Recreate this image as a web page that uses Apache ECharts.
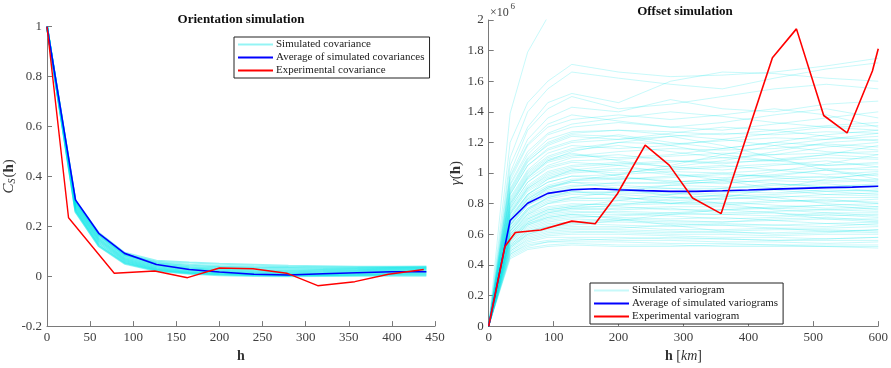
<!DOCTYPE html>
<html>
<head>
<meta charset="utf-8">
<script src="https://cdn.jsdelivr.net/npm/echarts@6/dist/echarts.min.js"></script>
<style>
  html, body { margin: 0; padding: 0; background: #fff; }
  #chart { width: 891px; height: 368px; }
</style>
</head>
<body>
<div id="chart"></div>
<script>
// ---------- Orientation simulation (covariance) ----------
const covLags = [0, 33, 60, 90, 127, 165, 200, 240, 280, 320, 360, 400, 440];
const simCovariances = [
  [1, 0.304, 0.174, 0.094, 0.062, 0.055, 0.050, 0.046, 0.042, 0.040, 0.038, 0.038, 0.039],
  [1, 0.300, 0.168, 0.088, 0.052, 0.040, 0.036, 0.033, 0.032, 0.030, 0.031, 0.033, 0.034],
  [1, 0.298, 0.165, 0.086, 0.056, 0.046, 0.041, 0.038, 0.036, 0.035, 0.035, 0.036, 0.037],
  [1, 0.295, 0.162, 0.083, 0.048, 0.035, 0.030, 0.027, 0.025, 0.026, 0.028, 0.030, 0.032],
  [1, 0.290, 0.155, 0.078, 0.044, 0.031, 0.026, 0.022, 0.020, 0.022, 0.024, 0.027, 0.029],
  [1, 0.285, 0.150, 0.073, 0.040, 0.028, 0.022, 0.018, 0.016, 0.018, 0.021, 0.024, 0.026],
  [1, 0.280, 0.145, 0.069, 0.036, 0.024, 0.018, 0.014, 0.012, 0.014, 0.017, 0.020, 0.022],
  [1, 0.275, 0.140, 0.065, 0.032, 0.020, 0.015, 0.011, 0.009, 0.010, 0.013, 0.016, 0.018],
  [1, 0.270, 0.134, 0.061, 0.029, 0.017, 0.012, 0.008, 0.006, 0.007, 0.009, 0.012, 0.014],
  [1, 0.265, 0.128, 0.057, 0.026, 0.014, 0.009, 0.006, 0.004, 0.005, 0.006, 0.009, 0.010],
  [1, 0.260, 0.122, 0.053, 0.023, 0.012, 0.007, 0.004, 0.002, 0.003, 0.004, 0.006, 0.006],
  [1, 0.258, 0.120, 0.050, 0.021, 0.010, 0.004, 0.001, 0.000, 0.001, 0.002, 0.003, 0.002]
];
const avgCovariance = [1.0, 0.306, 0.172, 0.0915, 0.047, 0.027, 0.017, 0.008, 0.005, 0.010, 0.014, 0.018, 0.018];
const expCovLags = [0, 25, 78, 125, 163, 200, 239, 278, 314, 357, 396, 437];
const expCovariance = [1.0, 0.234, 0.012, 0.021, -0.006, 0.033, 0.030, 0.012, -0.038, -0.022, 0.008, 0.027];

// ---------- Offset simulation (variogram, in units of 1e6) ----------
const varLags = [0, 33, 60, 91, 128, 200, 280, 360, 440, 520, 600];
const simVariograms = [
  [0, 1.39, 1.79, 2.02, 2.25],
  [0, 1.20, 1.46, 1.60, 1.71, 1.66, 1.63, 1.64, 1.66, 1.70, 1.75],
  [0, 1.10, 1.40, 1.55, 1.66, 1.62, 1.58, 1.55, 1.62, 1.68, 1.72],
  [0, 1.05, 1.30, 1.46, 1.52, 1.46, 1.60, 1.66, 1.65, 1.62, 1.60],
  [0, 1.00, 1.28, 1.42, 1.50, 1.42, 1.45, 1.50, 1.55, 1.58, 1.55],
  [0, 0.98, 1.22, 1.36, 1.43, 1.40, 1.48, 1.42, 1.40, 1.45, 1.47],
  [0, 0.95, 1.18, 1.30, 1.35, 1.38, 1.35, 1.38, 1.42, 1.38, 1.30],
  [0, 0.92, 1.12, 1.25, 1.30, 1.33, 1.30, 1.28, 1.32, 1.36, 1.40],
  [0, 0.90, 1.10, 1.22, 1.27, 1.28, 1.25, 1.22, 1.26, 1.30, 1.31],
  [0, 0.88, 1.08, 1.18, 1.24, 1.22, 1.26, 1.30, 1.28, 1.24, 1.21],
  [0, 0.86, 1.05, 1.16, 1.21, 1.25, 1.20, 1.16, 1.20, 1.25, 1.28],
  [0, 0.84, 1.02, 1.13, 1.18, 1.16, 1.18, 1.22, 1.18, 1.14, 1.12],
  [0, 0.82, 1.00, 1.10, 1.15, 1.18, 1.14, 1.10, 1.12, 1.17, 1.20],
  [0, 0.80, 0.98, 1.08, 1.12, 1.10, 1.12, 1.16, 1.20, 1.18, 1.15],
  [0, 0.79, 0.96, 1.05, 1.10, 1.12, 1.08, 1.06, 1.09, 1.12, 1.10],
  [0, 0.77, 0.94, 1.03, 1.07, 1.05, 1.07, 1.10, 1.08, 1.05, 1.06],
  [0, 0.76, 0.92, 1.01, 1.05, 1.07, 1.04, 1.02, 1.05, 1.08, 1.04],
  [0, 0.74, 0.90, 0.98, 1.02, 1.00, 1.03, 1.05, 1.02, 0.99, 1.01],
  [0, 0.73, 0.88, 0.96, 1.00, 1.02, 0.99, 0.97, 0.99, 1.02, 0.98],
  [0, 0.72, 0.86, 0.94, 0.98, 0.96, 0.98, 1.00, 0.97, 0.95, 0.96],
  [0, 0.70, 0.85, 0.92, 0.96, 0.97, 0.95, 0.93, 0.96, 0.98, 0.94],
  [0, 0.69, 0.83, 0.90, 0.94, 0.93, 0.94, 0.96, 0.93, 0.91, 0.92],
  [0, 0.68, 0.82, 0.89, 0.92, 0.92, 0.90, 0.90, 0.92, 0.93, 0.90],
  [0, 0.66, 0.80, 0.87, 0.90, 0.89, 0.90, 0.88, 0.87, 0.89, 0.88],
  [0, 0.65, 0.79, 0.85, 0.88, 0.87, 0.86, 0.87, 0.89, 0.86, 0.85],
  [0, 0.64, 0.77, 0.83, 0.86, 0.86, 0.84, 0.83, 0.84, 0.86, 0.87],
  [0, 0.63, 0.76, 0.82, 0.84, 0.83, 0.84, 0.85, 0.82, 0.81, 0.83],
  [0, 0.62, 0.74, 0.80, 0.82, 0.82, 0.80, 0.79, 0.81, 0.83, 0.80],
  [0, 0.61, 0.73, 0.78, 0.80, 0.79, 0.80, 0.81, 0.79, 0.77, 0.78],
  [0, 0.60, 0.71, 0.76, 0.78, 0.78, 0.76, 0.76, 0.78, 0.79, 0.76],
  [0, 0.59, 0.70, 0.75, 0.77, 0.76, 0.77, 0.74, 0.75, 0.76, 0.75],
  [0, 0.58, 0.68, 0.73, 0.75, 0.74, 0.73, 0.73, 0.74, 0.72, 0.73],
  [0, 0.57, 0.67, 0.71, 0.73, 0.73, 0.72, 0.70, 0.71, 0.73, 0.71],
  [0, 0.56, 0.66, 0.70, 0.72, 0.71, 0.70, 0.71, 0.69, 0.70, 0.70],
  [0, 0.55, 0.64, 0.68, 0.70, 0.69, 0.68, 0.68, 0.69, 0.67, 0.68],
  [0, 0.54, 0.63, 0.67, 0.68, 0.68, 0.67, 0.66, 0.66, 0.67, 0.66],
  [0, 0.53, 0.62, 0.65, 0.67, 0.66, 0.65, 0.66, 0.64, 0.64, 0.65],
  [0, 0.52, 0.60, 0.64, 0.65, 0.65, 0.63, 0.63, 0.64, 0.62, 0.63],
  [0, 0.51, 0.59, 0.62, 0.63, 0.63, 0.62, 0.61, 0.61, 0.62, 0.61],
  [0, 0.50, 0.58, 0.61, 0.62, 0.61, 0.60, 0.60, 0.59, 0.60, 0.60],
  [0, 0.49, 0.56, 0.59, 0.60, 0.60, 0.59, 0.58, 0.58, 0.57, 0.58],
  [0, 0.48, 0.55, 0.58, 0.58, 0.58, 0.57, 0.57, 0.56, 0.56, 0.56],
  [0, 0.47, 0.54, 0.56, 0.57, 0.56, 0.56, 0.55, 0.55, 0.54, 0.55],
  [0, 0.46, 0.52, 0.55, 0.55, 0.55, 0.54, 0.54, 0.53, 0.53, 0.53],
  [0, 0.45, 0.51, 0.53, 0.54, 0.53, 0.53, 0.52, 0.52, 0.52, 0.51],
  [0, 0.78, 0.97, 1.08, 1.14, 1.20, 1.24, 1.18, 1.10, 1.02, 0.96],
  [0, 0.66, 0.81, 0.90, 0.95, 0.99, 1.05, 1.12, 1.18, 1.22, 1.26],
  [0, 0.62, 0.76, 0.84, 0.88, 0.85, 0.80, 0.84, 0.90, 0.96, 1.00],
  [0, 0.87, 1.07, 1.19, 1.25, 1.24, 1.18, 1.12, 1.08, 1.12, 1.18],
  [0, 0.57, 0.68, 0.74, 0.77, 0.79, 0.83, 0.86, 0.84, 0.80, 0.78],
  [0, 0.70, 0.86, 0.96, 1.02, 1.05, 1.00, 0.95, 0.90, 0.88, 0.86],
  [0, 0.60, 0.73, 0.80, 0.84, 0.88, 0.92, 0.95, 0.98, 1.02, 1.04],
  [0, 0.44, 0.50, 0.52, 0.53, 0.52, 0.52, 0.53, 0.53, 0.52, 0.52],
  [0, 0.47, 0.53, 0.55, 0.56, 0.57, 0.58, 0.57, 0.56, 0.57, 0.58],
  [0, 0.49, 0.57, 0.60, 0.61, 0.62, 0.61, 0.62, 0.63, 0.63, 0.62],
  [0, 0.51, 0.60, 0.63, 0.64, 0.64, 0.66, 0.67, 0.66, 0.65, 0.67],
  [0, 0.53, 0.62, 0.66, 0.68, 0.70, 0.69, 0.68, 0.70, 0.71, 0.69],
  [0, 0.55, 0.65, 0.69, 0.71, 0.72, 0.74, 0.73, 0.72, 0.74, 0.74],
  [0, 0.57, 0.67, 0.72, 0.74, 0.75, 0.74, 0.76, 0.77, 0.76, 0.77],
  [0, 0.58, 0.69, 0.74, 0.76, 0.77, 0.78, 0.78, 0.77, 0.79, 0.80],
  [0, 0.60, 0.72, 0.77, 0.79, 0.80, 0.81, 0.80, 0.82, 0.82, 0.81],
  [0, 0.62, 0.75, 0.81, 0.83, 0.84, 0.82, 0.83, 0.85, 0.84, 0.84],
  [0, 0.64, 0.77, 0.84, 0.87, 0.88, 0.87, 0.85, 0.86, 0.88, 0.89],
  [0, 0.66, 0.79, 0.86, 0.89, 0.90, 0.92, 0.91, 0.90, 0.91, 0.93],
  [0, 0.67, 0.81, 0.88, 0.91, 0.94, 0.93, 0.94, 0.95, 0.94, 0.95],
  [0, 0.69, 0.84, 0.91, 0.95, 0.96, 0.97, 0.99, 0.98, 0.97, 0.99],
  [0, 0.71, 0.86, 0.94, 0.98, 0.99, 1.01, 1.00, 1.02, 1.03, 1.02],
  [0, 0.73, 0.89, 0.97, 1.01, 1.03, 1.02, 1.04, 1.06, 1.05, 1.07],
  [0, 0.75, 0.91, 1.00, 1.04, 1.06, 1.08, 1.07, 1.08, 1.10, 1.09],
  [0, 0.77, 0.94, 1.04, 1.08, 1.09, 1.11, 1.13, 1.12, 1.13, 1.14],
  [0, 0.80, 0.97, 1.07, 1.11, 1.14, 1.16, 1.15, 1.16, 1.19, 1.17],
  [0, 0.83, 1.01, 1.11, 1.16, 1.20, 1.19, 1.21, 1.23, 1.22, 1.24],
  [0, 0.86, 1.05, 1.15, 1.20, 1.22, 1.24, 1.26, 1.25, 1.27, 1.26],
  [0, 0.89, 1.09, 1.20, 1.26, 1.28, 1.27, 1.25, 1.28, 1.31, 1.33],
  [0, 0.56, 0.66, 0.71, 0.73, 0.70, 0.66, 0.62, 0.60, 0.61, 0.63],
  [0, 0.68, 0.83, 0.91, 0.94, 0.90, 0.85, 0.80, 0.76, 0.74, 0.72],
  [0, 0.59, 0.70, 0.76, 0.78, 0.82, 0.86, 0.90, 0.93, 0.91, 0.88],
  [0, 0.74, 0.90, 0.99, 1.03, 0.98, 0.94, 0.96, 1.01, 1.06, 1.12],
  [0, 0.52, 0.61, 0.65, 0.66, 0.69, 0.73, 0.76, 0.74, 0.70, 0.68],
  [0, 0.81, 0.99, 1.09, 1.13, 1.08, 1.04, 1.08, 1.14, 1.20, 1.22],
  [0, 0.93, 1.14, 1.26, 1.32, 1.36, 1.40, 1.37, 1.33, 1.30, 1.28],
  [0, 0.97, 1.19, 1.32, 1.38, 1.34, 1.30, 1.33, 1.38, 1.42, 1.36]
];
const avgVarLags = [0, 33, 60, 91, 128, 164, 198, 240, 280, 320, 360, 400, 440, 480, 520, 560, 600];
const avgVariogram = [0, 0.69, 0.803, 0.867, 0.891, 0.897, 0.891, 0.885, 0.880, 0.880, 0.884, 0.889, 0.895, 0.900, 0.905, 0.908, 0.914];
const expVarLags = [0, 25, 41, 80, 128, 164, 198, 241, 278, 314, 358, 437, 474, 516, 552, 591, 600];
const expVariogram = [0, 0.52, 0.612, 0.628, 0.686, 0.669, 0.863, 1.182, 1.052, 0.837, 0.735, 1.754, 1.942, 1.376, 1.262, 1.667, 1.812];

const covTicksX = { min: 0, max: 450, interval: 50 };
const covTicksY = { min: -0.2, max: 1, interval: 0.2 };
const varTicksX = { min: 0, max: 600, interval: 100 };
const varTicksY = { min: 0, max: 2, interval: 0.2 };

// ---------- styling ----------
const SERIF = '"Liberation Serif", "Times New Roman", serif';
const AXIS_COLOR = '#7a7a7a';
const LABEL_COLOR = '#404040';
const SIM_COV_COLOR = 'rgba(0, 228, 232, 0.42)';
const SIM_VAR_COLOR = 'rgba(0, 228, 232, 0.22)';
const AVG_COLOR = '#0000ff';
const EXP_COLOR = '#ff0000';

const pairs = (xs, ys) => ys.map((y, i) => [xs[i], y]);

function axis(gridIndex, ticks, extra) {
  return Object.assign({
    gridIndex,
    type: 'value',
    min: ticks.min, max: ticks.max, interval: ticks.interval,
    axisLine: { show: true, onZero: false, lineStyle: { color: AXIS_COLOR, width: 1 } },
    axisTick: { show: true, inside: true, length: 5, lineStyle: { color: AXIS_COLOR } },
    axisLabel: { color: LABEL_COLOR, fontFamily: SERIF, fontSize: 13, margin: 5 },
    splitLine: { show: false }
  }, extra);
}

function lineSeries(name, xAxisIndex, data, color, width, z) {
  return {
    type: 'line', name, xAxisIndex, yAxisIndex: xAxisIndex, data,
    color, showSymbol: false, symbol: 'none', silent: true, animation: false,
    lineStyle: { color, width }, itemStyle: { color }, z, clip: true
  };
}

const series = [];
simCovariances.forEach(c => series.push(lineSeries('Simulated covariance', 0, pairs(covLags, c), SIM_COV_COLOR, 2, 1)));
series.push(lineSeries('Average of simulated covariances', 0, pairs(covLags, avgCovariance), AVG_COLOR, 1.6, 3));
series.push(lineSeries('Experimental covariance', 0, pairs(expCovLags, expCovariance), EXP_COLOR, 1.4, 4));
simVariograms.forEach(v => series.push(lineSeries('Simulated variogram', 1, pairs(varLags, v), SIM_VAR_COLOR, 1, 1)));
series.push(lineSeries('Average of simulated variograms', 1, pairs(avgVarLags, avgVariogram), AVG_COLOR, 1.6, 3));
series.push(lineSeries('Experimental variogram', 1, pairs(expVarLags, expVariogram), EXP_COLOR, 1.6, 4));

function legend(left, top, names) {
  return {
    left, top, orient: 'vertical', data: names,
    icon: 'rect', itemWidth: 35, itemHeight: 2, itemGap: 0,
    backgroundColor: '#fff', borderColor: '#222', borderWidth: 1,
    padding: [1, 5, 1, 4], selectedMode: false,
    textStyle: { fontFamily: SERIF, fontSize: 11, color: '#1a1a1a', lineHeight: 13, padding: [0, 0, 0, -2] }
  };
}

const chart = echarts.init(document.getElementById('chart'), null, { renderer: 'canvas' });
chart.setOption({
  animation: false,
  backgroundColor: '#fff',
  grid: [
    { left: 47, right: 456, top: 26.7, bottom: 35.3, containLabel: false },
    { left: 488.7, right: 9.3, top: 20, bottom: 38.7, containLabel: false }
  ],
  xAxis: [
    axis(0, covTicksX, {
      name: 'h', nameLocation: 'middle', nameGap: 18,
      nameTextStyle: { fontFamily: SERIF, fontSize: 14, fontWeight: 'bold', color: '#333' }
    }),
    axis(1, varTicksX, {
      name: '{b|h} {n|[}{i|km}{n|]}', nameLocation: 'middle', nameGap: 17,
      nameTextStyle: {
        fontFamily: SERIF, fontSize: 14, color: '#333',
        rich: {
          b: { fontFamily: SERIF, fontSize: 14, fontWeight: 'bold', color: '#333' },
          n: { fontFamily: SERIF, fontSize: 14, color: '#333' },
          i: { fontFamily: SERIF, fontSize: 14, fontStyle: 'italic', color: '#333' }
        }
      }
    })
  ],
  yAxis: [
    axis(0, covTicksY, {
      name: '{i|C}{s|S}{n|(}{b|h}{n|)}', nameLocation: 'middle', nameGap: 28, nameRotate: 90,
      nameTextStyle: {
        fontFamily: SERIF, fontSize: 14, color: '#333',
        rich: {
          i: { fontFamily: SERIF, fontSize: 15, fontStyle: 'italic', color: '#333' },
          s: { fontFamily: SERIF, fontSize: 10, fontStyle: 'italic', color: '#333', verticalAlign: 'bottom', padding: [6, 1, 0, 0] },
          n: { fontFamily: SERIF, fontSize: 15, color: '#333' },
          b: { fontFamily: SERIF, fontSize: 15, fontWeight: 'bold', color: '#333' }
        }
      }
    }),
    axis(1, varTicksY, {
      name: '{g|γ}{n|(}{b|h}{n|)}', nameLocation: 'middle', nameGap: 25, nameRotate: 90,
      nameTextStyle: {
        fontFamily: SERIF, fontSize: 14, color: '#333',
        rich: {
          g: { fontFamily: SERIF, fontSize: 15, fontStyle: 'italic', color: '#333' },
          n: { fontFamily: SERIF, fontSize: 15, color: '#333' },
          b: { fontFamily: SERIF, fontSize: 15, fontWeight: 'bold', color: '#333' }
        }
      }
    })
  ],
  legend: [
    legend(234, 37, ['Simulated covariance', 'Average of simulated covariances', 'Experimental covariance']),
    legend(590, 283, ['Simulated variogram', 'Average of simulated variograms', 'Experimental variogram'])
  ],
  graphic: [
    { type: 'text', x: 241, y: 20, silent: true,
      style: { text: 'Orientation simulation', font: 'bold 13px ' + SERIF, fill: '#111', textAlign: 'center', textVerticalAlign: 'middle' } },
    { type: 'text', x: 685, y: 12, silent: true,
      style: { text: 'Offset simulation', font: 'bold 13px ' + SERIF, fill: '#111', textAlign: 'center', textVerticalAlign: 'middle' } },
    { type: 'text', x: 490, y: 13, silent: true,
      style: { text: '×10', font: '12px ' + SERIF, fill: LABEL_COLOR, textAlign: 'left', textVerticalAlign: 'middle' } },
    { type: 'text', x: 510.5, y: 7, silent: true,
      style: { text: '6', font: '9px ' + SERIF, fill: LABEL_COLOR, textAlign: 'left', textVerticalAlign: 'middle' } }
  ],
  series
});
</script>
</body>
</html>
